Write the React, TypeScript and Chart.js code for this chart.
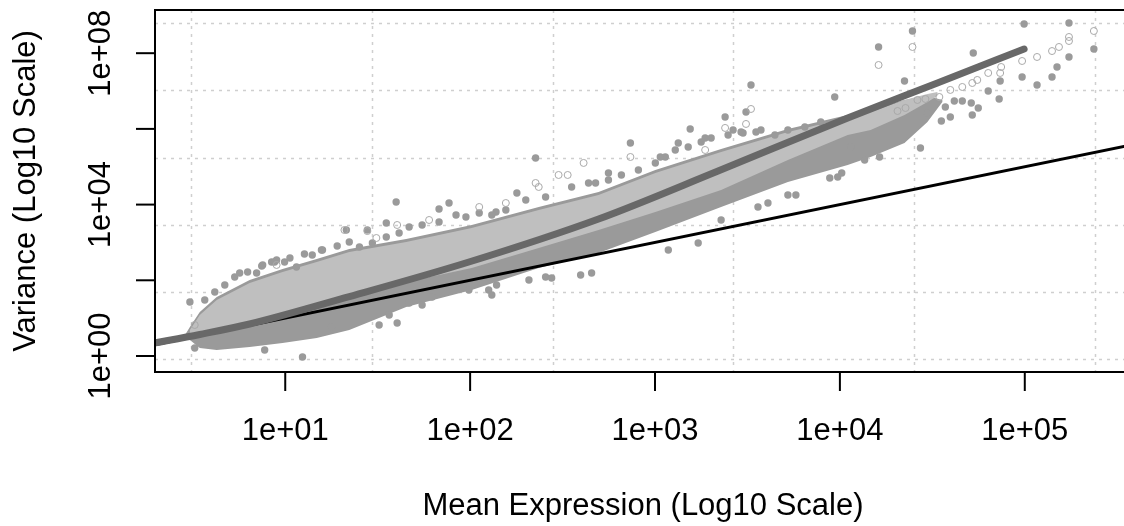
import { useEffect, useRef } from "react";
import { Chart, registerables } from "chart.js";

Chart.register(...registerables);

// Axis ticks and grid (data units)
const xTickValues = [10, 100, 1000, 10000, 100000];
const xTickLabels = ["1e+01", "1e+02", "1e+03", "1e+04", "1e+05"];
const yTickValues = [1, 100, 10000, 1e6, 1e8];
const yTickLabels = ["1e+00", "", "1e+04", "", "1e+08"];
const gridX = [3.1, 29.4, 279, 2650, 25200, 239000];
const gridY = [0.853, 50.4, 2970, 175000, 1.035e7, 6.11e8];
const xTitle = "Mean Expression (Log10 Scale)";
const yTitle = "Variance (Log10 Scale)";

// Fitted mean-variance trend (dark grey)
const trendMean = [1.9, 3.45, 6.42, 20.9, 98.5, 495, 2194, 11020, 33680, 99150];
const trendVar = [2.14, 3.7, 7.0, 34.1, 304, 4170, 77300, 1.94e6, 1.63e7, 1.29e8];

// Poisson line (variance = mean)
const poissonMean = [1, 1e6];
const poissonVar = [1, 1e6];

// Dense light-grey part of the gene cloud
const lightMean = [3.05, 3.45, 4.26, 6.42, 9.67, 14.8, 22.2, 45.1, 102, 235, 495, 1004, 2278, 5232, 11020, 14660, 22360, 29750, 33680];
const lightUpper = [4.86, 12.1, 30.2, 84.9, 166, 304, 560, 1030, 2410, 7200, 17900, 68400, 245000, 828000, 1.94e6, 2.79e6, 5.8e6, 8.36e6, 9.44e6];
const lightLower = [3.38, 3.81, 4.31, 5.84, 10.1, 19.7, 36.2, 90.2, 211, 713, 2130, 6380, 24300, 151000, 690000, 935000, 2.33e6, 5.14e6, 7.4e6];

// Dense mid-grey envelope of the gene cloud
const midMean = [2.87, 3.05, 3.45, 4.26, 6.42, 9.67, 14.8, 22.2, 45.1, 102, 235, 495, 1004, 2278, 5232, 11020, 14660, 22360, 29750, 35820];
const midUpper = [3.59, 5.84, 14.5, 36.2, 102, 199, 365, 671, 1234, 2890, 8640, 21500, 82000, 294000, 993000, 2.33e6, 3.16e6, 5.8e6, 7.4e6, 5.8e6];
const midLower = [3.18, 2.65, 1.63, 1.44, 1.73, 2.2, 2.99, 4.86, 19.7, 55.4, 211, 526, 1890, 8640, 39600, 111000, 181000, 424000, 1.52e6, 5.14e6];

// Grey genes along the upper edge of the cloud
const fringeMean = [
  3.67, 4.16, 4.71, 5.33, 6.26, 7.46, 8.44, 10.6, 12.7, 15.7, 19.1, 25.2, 29.6, 35.2, 41.3, 46.8,
  55.0, 67.9, 83.9, 94.9, 112, 138, 156, 200, 256, 354, 437, 477, 560, 658, 813, 1004, 1137, 1287,
  1512, 1777, 2012, 2485, 2920, 3742, 4452, 5232, 6462, 7882,
];
const fringeVar = [
  30.2, 49.1, 75.2, 122, 166, 239, 304, 388, 495, 632, 806, 759, 967, 1390, 1780, 2560,
  2890, 3470, 5310, 4700, 6000, 6380, 7200, 13200, 15900, 29200, 37200, 37200, 44700, 60600, 82000, 126000, 181000, 277000,
  333000, 451000, 575000, 690000, 828000, 935000, 690000, 935000, 1.12e6, 1.52e6,
];

// Individual filled grey genes (outliers)
const outlierMean = [
  3.05, 3.24, 7.55, 7.74, 12.4, 17.8, 14.0, 8.98, 9.92, 11.5, 5.67, 7.0,
  39.8, 76.9, 35.2, 27.8, 8.76, 15.9, 22.2, 32.2, 40.3, 55.0, 62.3, 126, 131, 139, 208, 256, 98.5,
  226, 67.9, 179, 131, 21.4, 396, 454, 276, 36.5, 46.8,
  3305, 9376, 3106, 2394, 3516, 2644, 2993, 1550, 1336, 736, 560, 1867, 1068,
  8815, 9732, 5232, 5779, 4082, 3605, 2278, 1712, 1180,
  16190, 24690, 99150, 173400, 236400, 173400, 149400, 140400, 116500, 96720, 73590, 72680, 63420,
  52650, 22360, 56030, 52000, 51340, 41580, 45920, 37180, 39560, 35380, 29750, 27270, 16390, 13610, 11440, 10230,
];
const outlierVar = [
  26.7, 1.63, 254, 1.44, 0.94, 5.84, 466, 344, 304, 225, 156, 156,
  11700, 11000, 3260, 2130, 304, 632, 1030, 6.59, 7.45, 22.3, 36.2, 55.4, 40.9, 75.2, 102, 122, 55.4,
  170000, 7650, 20200, 5310, 2130, 138, 156, 115, 12.1, 25.1,
  1.45e7, 6.96e6, 2.79e6, 2.06e6, 828000, 935000, 780000, 993000, 424000, 424000, 68400, 575000, 181000,
  50400, 53600, 17900, 17900, 11000, 8640, 3920, 967, 632,
  1.46e8, 3.86e8, 5.9e8, 6.28e8, 1.29e8, 7.94e7, 4.32e7, 2.35e7, 1.45e7, 2.35e7, 1.84e7, 6.17e6, 1.0e7,
  1.01e8, 1.84e7, 3.57e6, 2.33e6, 4.83e6, 5.46e6, 5.46e6, 3.79e6, 2.06e6, 1.62e6, 2.63e6, 313000, 181000, 151000, 333000, 68400,
];

// Open-circle genes
const openMean = [
  3.24, 8.98, 20.9, 27.8, 40.3, 60.0, 112, 156, 31.1, 411, 301, 337, 226, 235,
  3305, 2394, 3106, 736, 1867,
  16190, 24690, 236400, 173400, 173400, 153100, 140400, 116500, 96720, 74510, 73590, 63420, 55340, 52000,
  45920, 39560, 34510, 29010, 26270, 22640, 20500,
];
const openVar = [
  6.59, 254, 2130, 2000, 2890, 3920, 8640, 11000, 1310, 126000, 60600, 60600, 37200, 29200,
  3.36e6, 1.06e6, 1.35e6, 181000, 277000,
  4.88e7, 1.46e8, 3.86e8, 2.68e8, 2.1e8, 1.46e8, 1.14e8, 7.94e7, 6.22e7, 4.32e7, 3.0e7, 3.0e7, 1.96e7, 1.63e7,
  1.28e7, 1.07e7, 6.96e6, 6.17e6, 5.8e6, 3.57e6, 2.97e6,
];

const X_MIN = 1.975;
const X_MAX = 375400;
const Y_MIN = 0.3776;
const Y_MAX = 1.384e9;

const FONT = '31px "Liberation Sans", Arial, sans-serif';

const pts = (xs: number[], ys: number[]) => xs.map((x, i) => ({ x, y: ys[i] }));
const polygon = (xs: number[], up: number[], lo: number[]) => [
  ...pts(xs, up),
  ...pts(xs, lo).reverse(),
];

const rAxesPlugin = {
  id: "rAxes",
  beforeDatasetsDraw(chart: any) {
    const { ctx, chartArea: a, scales } = chart;
    const sx = scales.x;
    const sy = scales.y;
    ctx.save();
    ctx.strokeStyle = "#cfcfcf";
    ctx.lineWidth = 1.5;
    ctx.setLineDash([3, 5]);
    for (const v of gridX) {
      const px = Math.round(sx.getPixelForValue(v)) + 0.5;
      ctx.beginPath();
      ctx.moveTo(px, a.top);
      ctx.lineTo(px, a.bottom);
      ctx.stroke();
    }
    for (const v of gridY) {
      const py = Math.round(sy.getPixelForValue(v)) + 0.5;
      ctx.beginPath();
      ctx.moveTo(a.left, py);
      ctx.lineTo(a.right, py);
      ctx.stroke();
    }
    ctx.restore();
  },
  afterDatasetsDraw(chart: any) {
    const { ctx, chartArea: a, scales } = chart;
    const sx = scales.x;
    const sy = scales.y;
    const tick = 19;
    ctx.save();
    ctx.strokeStyle = "#000";
    ctx.lineWidth = 2;
    ctx.setLineDash([]);
    ctx.strokeRect(a.left, a.top, a.right - a.left, a.bottom - a.top);

    ctx.fillStyle = "#000";
    ctx.font = FONT;
    ctx.textAlign = "center";
    ctx.textBaseline = "alphabetic";
    xTickValues.forEach((v, i) => {
      const px = sx.getPixelForValue(v);
      ctx.beginPath();
      ctx.moveTo(px, a.bottom);
      ctx.lineTo(px, a.bottom + tick);
      ctx.stroke();
      ctx.fillText(xTickLabels[i], px, a.bottom + 67.5);
    });
    yTickValues.forEach((v, i) => {
      const py = sy.getPixelForValue(v);
      ctx.beginPath();
      ctx.moveTo(a.left - tick, py);
      ctx.lineTo(a.left, py);
      ctx.stroke();
      if (yTickLabels[i]) {
        ctx.save();
        ctx.translate(a.left - 45, py);
        ctx.rotate(-Math.PI / 2);
        ctx.fillText(yTickLabels[i], 0, 0);
        ctx.restore();
      }
    });
    ctx.fillText(xTitle, (a.left + a.right) / 2, a.bottom + 142.5);
    ctx.save();
    ctx.translate(a.left - 120, (a.top + a.bottom) / 2);
    ctx.rotate(-Math.PI / 2);
    ctx.fillText(yTitle, 0, 0);
    ctx.restore();
    ctx.restore();
  },
};

export default function App() {
  const canvasRef = useRef<HTMLCanvasElement | null>(null);

  useEffect(() => {
    if (!canvasRef.current) return;
    const chart = new Chart(canvasRef.current, {
      type: "line",
      data: {
        datasets: [
          {
            label: "trend",
            data: pts(trendMean, trendVar),
            borderColor: "#686868",
            borderWidth: 7,
            borderCapStyle: "round",
            cubicInterpolationMode: "monotone",
            pointRadius: 0,
            fill: false,
            order: 0,
          },
          {
            label: "poisson",
            data: pts(poissonMean, poissonVar),
            borderColor: "#000000",
            borderWidth: 3,
            pointRadius: 0,
            fill: false,
            order: 1,
          },
          {
            label: "open",
            data: pts(openMean, openVar),
            showLine: false,
            pointRadius: 3.5,
            pointStyle: "circle",
            pointBackgroundColor: "rgba(0,0,0,0)",
            pointBorderColor: "#a9a9a9",
            pointBorderWidth: 1,
            fill: false,
            order: 2,
          },
          {
            label: "filled",
            data: pts(outlierMean, outlierVar),
            showLine: false,
            pointRadius: 3.7,
            pointStyle: "circle",
            pointBackgroundColor: "#9a9a9a",
            pointBorderWidth: 0,
            fill: false,
            order: 3,
          },
          {
            label: "fringe",
            data: pts(fringeMean, fringeVar),
            showLine: false,
            pointRadius: 3.7,
            pointStyle: "circle",
            pointBackgroundColor: "#9a9a9a",
            pointBorderWidth: 0,
            fill: false,
            order: 4,
          },
          {
            label: "light",
            data: polygon(lightMean, lightUpper, lightLower),
            borderWidth: 0,
            pointRadius: 0,
            backgroundColor: "#bfbfbf",
            fill: "shape",
            order: 5,
          },
          {
            label: "mid",
            data: polygon(midMean, midUpper, midLower),
            borderWidth: 0,
            pointRadius: 0,
            backgroundColor: "#9a9a9a",
            fill: "shape",
            order: 6,
          },
        ] as any,
      },
      options: {
        responsive: false,
        animation: false,
        devicePixelRatio: 1,
        layout: { padding: { left: 155, top: 10, right: 1.7, bottom: 154 } },
        plugins: { legend: { display: false }, tooltip: { enabled: false } },
        events: [],
        scales: {
          x: { type: "logarithmic", min: X_MIN, max: X_MAX, display: false, bounds: "data" },
          y: { type: "logarithmic", min: Y_MIN, max: Y_MAX, display: false, bounds: "data" },
        },
      } as any,
      plugins: [rAxesPlugin],
    });
    return () => chart.destroy();
  }, []);

  return (
    <div
      style={{
        position: "fixed",
        left: 0,
        top: 0,
        width: 1124,
        height: 526,
        overflow: "hidden",
        background: "#ffffff",
      }}
    >
      <canvas ref={canvasRef} width={1136} height={526} style={{ display: "block" }} />
    </div>
  );
}
